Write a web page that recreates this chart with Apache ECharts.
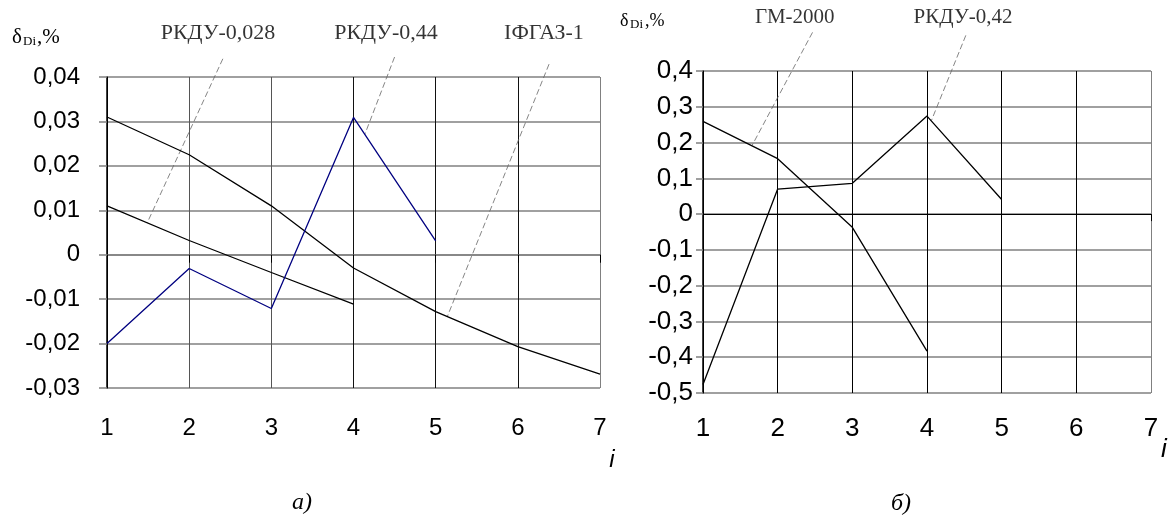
<!DOCTYPE html>
<html><head><meta charset="utf-8">
<script src="https://cdn.jsdelivr.net/npm/echarts@6/dist/echarts.min.js"></script>
<style>html,body{margin:0;padding:0;background:#fff}#c{width:1171px;height:515px}</style>
</head><body><div id="c"></div>
<script>
const xTicks=[1,2,3,4,5,6,7];
const xTickLabels=['1','2','3','4','5','6','7'];
const leftYTicks=['-0,03','-0,02','-0,01','0','0,01','0,02','0,03','0,04'];
const rightYTicks=['-0,5','-0,4','-0,3','-0,2','-0,1','0','0,1','0,2','0,3','0,4'];
const seriesIFGAZ=[0.031,0.0225,0.011,-0.003,-0.0128,-0.0207,-0.0269];
const seriesRKDU028=[0.011,0.0032,-0.004,-0.0111];
const seriesRKDU044=[-0.020,-0.0031,-0.0121,0.0309,0.0031];
const seriesGM2000=[0.259,0.155,-0.037,-0.383];
const seriesRKDU042=[-0.476,0.070,0.086,0.274,0.041];
const leftNames=['РКДУ-0,028','РКДУ-0,44','ІФГАЗ-1'];
const leftLabelAt=[[2.351,0.0499],[4.395,0.0499],[6.318,0.0499]];
const leftLeaderFrom=[[2.41,0.0441],[4.50,0.0445],[6.38,0.0429]];
const leftLeaderTo=[[1.49,0.0072],[4.14,0.0272],[5.14,-0.0140]];
const rightNames=['ГМ-2000','РКДУ-0,42'];
const rightLabelAt=[[2.23,0.55],[4.483,0.55]];
const rightLeaderFrom=[[2.467,0.508],[4.52,0.4996]];
const rightLeaderTo=[[1.66,0.193],[4.06,0.262]];

const pts=a=>a.map((v,i)=>[xTicks[i],v]);
const chart=echarts.init(document.getElementById('c'),null,{renderer:'canvas'});
const sans='Liberation Sans', serif='Liberation Serif';

function mainLine(data,xi,yi,color){
  return {type:'line',data:pts(data),xAxisIndex:xi,yAxisIndex:yi,symbol:'none',
    lineStyle:{color:color,width:1.3},z:5,silent:true};
}
function leader(from,to,xi,yi){
  return {type:'line',data:[from,to],xAxisIndex:xi,yAxisIndex:yi,symbol:'none',clip:false,
    lineStyle:{color:'#666',width:0.8,type:[6,3]},z:4,silent:true};
}
function labels(names,at,xi,yi,size){
  return {type:'scatter',xAxisIndex:xi,yAxisIndex:yi,clip:false,symbolSize:1,silent:true,
    itemStyle:{color:'rgba(0,0,0,0)'},
    data:names.map((n,i)=>({name:n,value:at[i]})),
    label:{show:true,position:'inside',formatter:'{b}',color:'#000',fontFamily:serif,fontSize:size}};
}
const series=[
  mainLine(seriesIFGAZ,0,0,'#000'),
  mainLine(seriesRKDU028,0,0,'#000'),
  mainLine(seriesRKDU044,0,0,'#000080'),
  mainLine(seriesGM2000,2,1,'#000'),
  mainLine(seriesRKDU042,2,1,'#000'),
  labels(leftNames,leftLabelAt,0,0,22),
  labels(rightNames,rightLabelAt,2,1,21)
];
leftNames.forEach((n,i)=>series.push(leader(leftLeaderFrom[i],leftLeaderTo[i],0,0)));
rightNames.forEach((n,i)=>series.push(leader(rightLeaderFrom[i],rightLeaderTo[i],2,1)));

function txt(t,x,y,size,font,style,align){
  return {type:'text',x:x,y:y,silent:true,style:{text:t,fill:'#000',fontSize:size,fontFamily:font,
    fontStyle:style||'normal',align:align||'left',verticalAlign:'middle'}};
}

chart.setOption({
  animation:false,
  backgroundColor:'#fff',
  grid:[
    {left:107,top:77,width:493,height:311},
    {left:703,top:71,width:448,height:322}
  ],
  xAxis:[
    {type:'value',gridIndex:0,min:1,max:7,interval:1,position:'bottom',
     axisLine:{show:false,onZero:false},axisTick:{show:false},
     axisLabel:{margin:28,fontSize:24,fontFamily:sans,color:'#000',formatter:v=>xTickLabels[Math.round(v-1)]},
     splitLine:{show:true,lineStyle:{width:1,color:['#000','#555','#555','#111','#111','#111','#808080']}}},
    {type:'value',gridIndex:0,min:1,max:7,interval:1,position:'bottom',
     axisLine:{show:true,onZero:true,lineStyle:{color:'#808080',width:1.5}},
     axisTick:{show:true,length:8,lineStyle:{color:'#000',width:1}},
     axisLabel:{show:false},splitLine:{show:false}},
    {type:'value',gridIndex:1,min:1,max:7,interval:1,position:'bottom',
     axisLine:{show:false,onZero:false},axisTick:{show:false},
     axisLabel:{margin:23,fontSize:26,fontFamily:sans,color:'#000',formatter:v=>xTickLabels[Math.round(v-1)]},
     splitLine:{show:true,lineStyle:{width:1,color:['#000','#000','#000','#000','#000','#000','#808080']}}},
    {type:'value',gridIndex:1,min:1,max:7,interval:1,position:'bottom',
     axisLine:{show:true,onZero:true,lineStyle:{color:'#000',width:1.2}},
     axisTick:{show:true,length:7,lineStyle:{color:'#000',width:1}},
     axisLabel:{show:false},splitLine:{show:false}}
  ],
  yAxis:[
    {type:'value',gridIndex:0,min:-0.03,max:0.04,interval:0.01,
     axisLine:{show:true,onZero:false,lineStyle:{color:'#000',width:1.5}},
     axisTick:{show:true,length:8,lineStyle:{color:'#808080',width:1.5}},
     axisLabel:{margin:27,fontSize:24,fontFamily:sans,color:'#000',
       formatter:v=>leftYTicks[Math.round((v+0.03)/0.01)]},
     splitLine:{show:true,lineStyle:{color:'#808080',width:1.5}}},
    {type:'value',gridIndex:1,min:-0.5,max:0.4,interval:0.1,
     axisLine:{show:true,onZero:false,lineStyle:{color:'#000',width:1.5}},
     axisTick:{show:true,length:7,lineStyle:{color:'#808080',width:1.5}},
     axisLabel:{margin:10,fontSize:26,fontFamily:sans,color:'#000',
       formatter:v=>rightYTicks[Math.round((v+0.5)/0.1)]},
     splitLine:{show:true,lineStyle:{color:'#808080',width:1.5}}}
  ],
  series:series,
  graphic:[
    txt('δ',12,37,21,serif),
    txt('Di',23,42,13,serif),
    txt(',%',37,37,21,serif),
    txt('δ',620,21,18,serif),
    txt('Di',630,25,13,serif),
    txt(',%',645,21,18,serif),
    txt('i',612,460,24,sans,'italic','center'),
    txt('i',1164,450,26,sans,'italic','center'),
    txt('а)',302,503,24,serif,'italic','center'),
    txt('б)',901,504,24,serif,'italic','center')
  ]
});
</script></body></html>
